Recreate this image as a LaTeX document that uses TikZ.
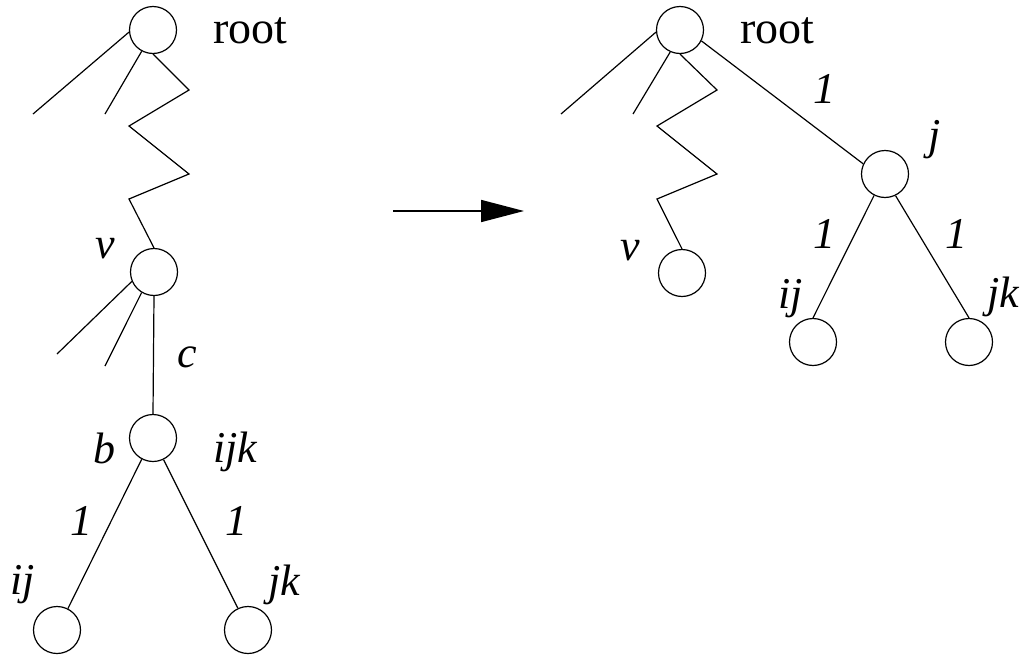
\documentclass[tikz,border=0pt]{standalone}
\usepackage{fontspec}
\setmainfont{Liberation Serif}
\usetikzlibrary{arrows.meta}
\begin{document}
\begin{tikzpicture}[x=1pt,y=-1pt,
  vert/.style={circle,draw,line width=1.2pt,minimum size=47pt,inner sep=0pt},
  edge/.style={line width=1.2pt},
  lab/.style={anchor=base west,inner sep=0pt,font=\fontsize{44}{48}\selectfont\itshape},
  rlab/.style={anchor=base west,inner sep=0pt,font=\fontsize{46}{50}\selectfont}]
\useasboundingbox (0,0) rectangle (1031,656);
% ---------- left tree ----------
\node[vert] (rootL) at (153,30) {};
\node[vert] (vL) at (154,272) {};
\node[vert] (bL) at (153,438) {};
\node[vert] (ijL) at (57,630) {};
\node[vert] (jkL) at (248,630) {};
\coordinate (l1) at (33,114);
\coordinate (l2) at (105,114);
\coordinate (z1) at (189,90);
\coordinate (z2) at (129,126);
\coordinate (z3) at (189,174);
\coordinate (z4) at (129,199);
\coordinate (l3) at (57,354);
\coordinate (l4) at (105,366);
\draw[edge] (rootL.185) -- (l1);
\draw[edge] (rootL.242) -- (l2);
\draw[edge] (rootL.270) -- (z1) -- (z2) -- (z3) -- (z4) -- (vL.90);
\draw[edge] (vL.203) -- (l3);
\draw[edge] (vL.239) -- (l4);
\draw[edge] (vL.south) -- (bL.north);
\draw[edge] (bL.242) -- (ijL.63);
\draw[edge] (bL.296) -- (jkL.115);
\node[rlab] (tRootL) at (213,43) {root};
\node[lab] (tvL) at (95,258) {v};
\node[lab] (tc) at (177,367) {c};
\node[lab] (tb) at (93,463) {b};
\node[lab] (tijk) at (213,462) {ijk};
\node[lab] (t1a) at (70,535) {1};
\node[lab] (t1b) at (225,535) {1};
\node[lab] (tijL) at (10,594) {ij};
\node[lab] (tjkL) at (268,595) {jk};
% ---------- arrow ----------
\coordinate (a1) at (393,211);
\coordinate (a2) at (524,211);
\draw[line width=1.7pt,-{Triangle[length=43pt,width=22pt]}] (a1) -- (a2);
% ---------- right tree ----------
\node[vert] (rootR) at (680,30) {};
\node[vert] (vR) at (682,273) {};
\node[vert] (jR) at (885,174) {};
\node[vert] (ijR) at (813,342) {};
\node[vert] (jkR) at (969,342) {};
\coordinate (m1) at (561,114);
\coordinate (m2) at (633,114);
\coordinate (y1) at (717,90);
\coordinate (y2) at (657,126);
\coordinate (y3) at (717,174);
\coordinate (y4) at (657,199);
\draw[edge] (rootR.185) -- (m1);
\draw[edge] (rootR.246) -- (m2);
\draw[edge] (rootR.270) -- (y1) -- (y2) -- (y3) -- (y4) -- (vR.90);
\draw[edge] (rootR.333) -- (jR.155);
\draw[edge] (jR.243) -- (ijR.90);
\draw[edge] (jR.296) -- (jkR.90);
\node[rlab] (tRootR) at (740,43) {root};
\node[lab] (tvR) at (620,260) {v};
\node[lab] (t1c) at (813,103) {1};
\node[lab] (tj) at (928,149) {j};
\node[lab] (t1d) at (813,248) {1};
\node[lab] (t1e) at (945,248) {1};
\node[lab] (tijR) at (778,308) {ij};
\node[lab] (tjkR) at (987,307) {jk};
\end{tikzpicture}
\end{document}
